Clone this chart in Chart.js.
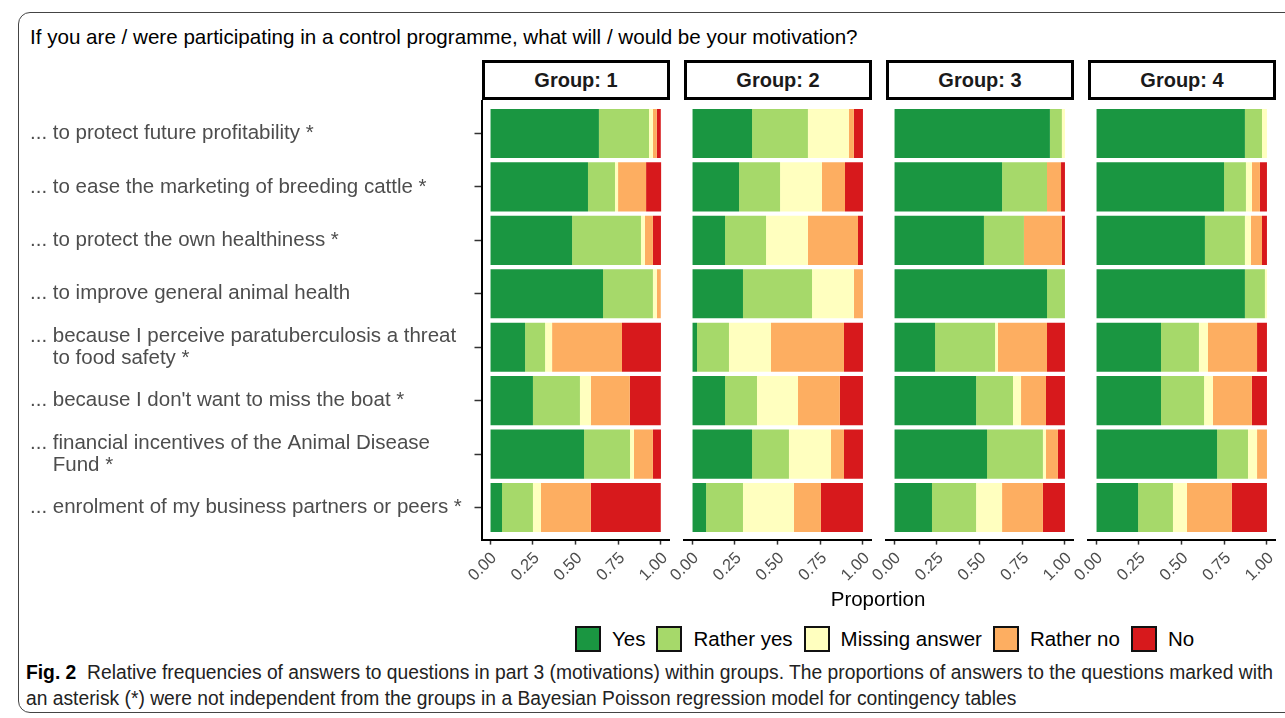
<!DOCTYPE html>
<html>
<head>
<meta charset="utf-8">
<script src="https://cdn.jsdelivr.net/npm/chart.js@4.4.1/dist/chart.umd.min.js"></script>
<style>
html,body{margin:0;padding:0;background:#fff;width:1285px;height:718px;overflow:hidden;font-family:"Liberation Sans",Arial,sans-serif;}
#frame{position:absolute;left:18px;top:12px;width:1320px;height:701px;border:1px solid #444;border-radius:12px;box-sizing:border-box;}
#title{position:absolute;left:30px;top:26px;font-size:20.6px;line-height:22px;color:#000;white-space:nowrap;}
.strip{position:absolute;top:60px;height:40px;width:188px;border:3px solid #000;box-sizing:border-box;background:#fff;text-align:center;font-weight:bold;font-size:20px;line-height:34px;color:#1a1a1a;}
canvas{position:absolute;top:60px;}
#xtitle{position:absolute;top:588px;left:778px;width:200px;text-align:center;font-size:20.5px;line-height:22px;color:#000;}
#legend{position:absolute;left:575px;top:626px;display:flex;align-items:center;height:26px;}
.lbox{width:26px;height:26px;border:2px solid #111;box-sizing:border-box;margin-right:11px;}
.ltxt{font-size:20.5px;line-height:26px;color:#000;margin-right:11px;white-space:nowrap;}
.cap{position:absolute;left:26px;font-family:"Liberation Sans Narrow","Liberation Sans",Arial,sans-serif;font-size:20px;line-height:26px;color:#222;white-space:nowrap;transform-origin:0 50%;}
.cap b{color:#000;}
</style>
</head>
<body>
<div id="frame"></div>
<div id="title">If you are / were participating in a control programme, what will / would be your motivation?</div>
<div id="strips"></div>
<canvas id="c0" width="650" height="540" style="left:30px"></canvas>
<canvas id="c1" width="229" height="540" style="left:653px"></canvas>
<canvas id="c2" width="229" height="540" style="left:855px"></canvas>
<canvas id="c3" width="229" height="540" style="left:1057px"></canvas>
<div id="xtitle">Proportion</div>
<div id="legend"></div>
<div class="cap" id="cap1" style="top:659px"><b>Fig. 2</b>&nbsp; Relative frequencies of answers to questions in part 3 (motivations) within groups. The proportions of answers to the questions marked with</div>
<div class="cap" id="cap2" style="top:685px">an asterisk (*) were not independent from the groups in a Bayesian Poisson regression model for contingency tables</div>
<script>
// ---- data ----
const questions = [
  "... to protect future profitability *",
  "... to ease the marketing of breeding cattle *",
  "... to protect the own healthiness *",
  "... to improve general animal health",
  ["... because I perceive paratuberculosis a threat", "    to food safety *"],
  "... because I don't want to miss the boat *",
  ["... financial incentives of the Animal Disease", "    Fund *"],
  "... enrolment of my business partners or peers *"
];
const groups = ["Group: 1", "Group: 2", "Group: 3", "Group: 4"];
const answers = ["Yes", "Rather yes", "Missing answer", "Rather no", "No"];
const answerColors = ["#1A9641", "#A6D96A", "#FFFFBF", "#FDAE61", "#D7191C"];
const xTicks = [0, 0.25, 0.5, 0.75, 1];

const g1Yes       = [0.637, 0.573, 0.480, 0.661, 0.205, 0.251, 0.550, 0.070];
const g1RatherYes = [0.293, 0.158, 0.403, 0.292, 0.117, 0.275, 0.269, 0.181];
const g1Missing   = [0.023, 0.018, 0.023, 0.023, 0.041, 0.064, 0.023, 0.047];
const g1RatherNo  = [0.023, 0.164, 0.047, 0.023, 0.409, 0.228, 0.111, 0.292];
const g1No        = [0.023, 0.088, 0.047, 0.000, 0.228, 0.181, 0.047, 0.409];

const g2Yes       = [0.351, 0.275, 0.193, 0.298, 0.029, 0.193, 0.351, 0.082];
const g2RatherYes = [0.327, 0.240, 0.240, 0.404, 0.187, 0.187, 0.216, 0.216];
const g2Missing   = [0.240, 0.245, 0.245, 0.245, 0.246, 0.240, 0.246, 0.298];
const g2RatherNo  = [0.029, 0.135, 0.293, 0.053, 0.427, 0.245, 0.076, 0.158];
const g2No        = [0.053, 0.105, 0.029, 0.000, 0.111, 0.135, 0.111, 0.246];

const g3Yes       = [0.912, 0.632, 0.526, 0.895, 0.240, 0.480, 0.544, 0.222];
const g3RatherYes = [0.070, 0.263, 0.234, 0.105, 0.351, 0.216, 0.327, 0.258];
const g3Missing   = [0.018, 0.000, 0.000, 0.000, 0.017, 0.047, 0.018, 0.152];
const g3RatherNo  = [0.000, 0.082, 0.222, 0.000, 0.287, 0.146, 0.070, 0.239];
const g3No        = [0.000, 0.023, 0.018, 0.000, 0.105, 0.111, 0.041, 0.129];

const g4Yes       = [0.871, 0.749, 0.637, 0.871, 0.380, 0.380, 0.708, 0.246];
const g4RatherYes = [0.100, 0.128, 0.234, 0.117, 0.222, 0.252, 0.181, 0.204];
const g4Missing   = [0.029, 0.035, 0.035, 0.012, 0.053, 0.052, 0.053, 0.082];
const g4RatherNo  = [0.000, 0.047, 0.065, 0.000, 0.287, 0.228, 0.058, 0.263];
const g4No        = [0.000, 0.041, 0.029, 0.000, 0.058, 0.088, 0.000, 0.205];

const groupSeries = [
  [g1Yes, g1RatherYes, g1Missing, g1RatherNo, g1No],
  [g2Yes, g2RatherYes, g2Missing, g2RatherNo, g2No],
  [g3Yes, g3RatherYes, g3Missing, g3RatherNo, g3No],
  [g4Yes, g4RatherYes, g4Missing, g4RatherNo, g4No]
];

// ---- layout ----
Chart.defaults.font.family = '"Liberation Sans", Arial, sans-serif';
const areaLefts = [481.5, 683.5, 885.5, 1087.5];

const stripHost = document.getElementById('strips');
groups.forEach((g, i) => {
  const d = document.createElement('div');
  d.className = 'strip';
  d.style.left = (areaLefts[i] + 0.5) + 'px';
  d.textContent = g;
  stripHost.appendChild(d);
});

const legendHost = document.getElementById('legend');
answers.forEach((a, k) => {
  const b = document.createElement('div');
  b.className = 'lbox';
  b.style.background = answerColors[k];
  const t = document.createElement('div');
  t.className = 'ltxt';
  t.textContent = a;
  legendHost.appendChild(b);
  legendHost.appendChild(t);
});

function makePanel(gi) {
  const showY = gi === 0;
  const datasets = answers.map((a, k) => ({
    label: a,
    data: groupSeries[gi][k].map((v, r) => ({x: v, y: r + 1})),
    backgroundColor: answerColors[k],
    borderWidth: 0,
    stack: 's',
    barPercentage: 0.92,
    categoryPercentage: 1
  }));
  new Chart(document.getElementById('c' + gi), {
    type: 'bar',
    data: {datasets},
    options: {
      indexAxis: 'y',
      responsive: false,
      animation: false,
      events: [],
      layout: {padding: {left: showY ? 0 : 30.5, right: 10.5, top: 41.4, bottom: 0}},
      plugins: {legend: {display: false}, tooltip: {enabled: false}},
      scales: {
        x: {
          type: 'linear', stacked: true, min: -0.05, max: 1.05, bounds: 'data', offset: false,
          afterBuildTicks: s => { s.ticks = xTicks.map(v => ({value: v})); },
          afterFit: s => { s.height = 60.4; },
          ticks: {autoSkip: false, minRotation: 45, maxRotation: 45, padding: 4, labelOffset: 4, color: '#4d4d4d',
                  font: {size: 16.5}, callback: v => Number(v).toFixed(2)},
          grid: {offset: false, drawOnChartArea: false, drawTicks: true, tickLength: 5, tickColor: '#333', tickWidth: 1.5, color: '#333'},
          border: {display: true, color: '#000', width: 2}
        },
        y: {
          type: 'linear', reverse: true, min: 0.4, max: 8.6, bounds: 'data', display: showY, offset: false,
          afterBuildTicks: s => { s.ticks = questions.map((q, i) => ({value: i + 1})); },
          afterFit: s => { if (showY) s.width = 451.5; else s.width = 0; },
          ticks: {autoSkip: false, crossAlign: 'far', color: '#4d4d4d', font: {size: 20.5, lineHeight: 1.05},
                  callback: v => questions[Math.round(v) - 1]},
          grid: {offset: false, drawOnChartArea: false, drawTicks: true, tickLength: 7, tickColor: '#333', tickWidth: 1.5},
          border: {display: true, color: '#000', width: 2}
        }
      }
    }
  });
}
[0, 1, 2, 3].forEach(makePanel);

// fit caption width
const c1 = document.getElementById('cap1');
const c2 = document.getElementById('cap2');
const w = c1.getBoundingClientRect().width;
const sc = 1247 / w;
c1.style.transform = 'scaleX(' + sc + ')';
c2.style.transform = 'scaleX(' + sc + ')';
</script>
</body>
</html>
